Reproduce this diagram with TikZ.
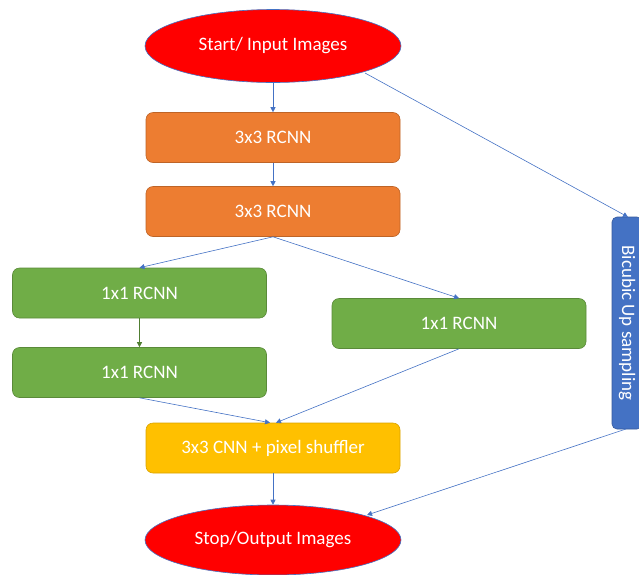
\documentclass[tikz,border=0pt]{standalone}
\usepackage{fontspec}
\setmainfont{Carlito}
\usetikzlibrary{shapes.geometric,arrows.meta}
\definecolor{cred}{HTML}{FF0000}
\definecolor{corange}{HTML}{ED7D31}
\definecolor{cgreen}{HTML}{70AD47}
\definecolor{cyellow}{HTML}{FFC000}
\definecolor{cblue}{HTML}{4472C4}
\definecolor{cdgreen}{HTML}{507E32}
\tikzset{
  lbl/.style={text=white, font=\fontsize{19}{22}\selectfont, inner sep=0pt},
  oval/.style={ellipse, lbl, fill=cred, draw=cblue, line width=0.6pt, minimum width=256pt, minimum height=73pt},
  rbox/.style={rectangle, rounded corners=7pt, lbl, line width=0.6pt, minimum width=254pt, minimum height=50pt},
  obox/.style={rbox, fill=corange, draw=corange!80!black},
  gbox/.style={rbox, fill=cgreen, draw=cgreen!80!black},
  ybox/.style={rbox, fill=cyellow, draw=cyellow!85!black},
  conn/.style={draw=cblue, line width=0.6pt, -{Triangle[length=5pt,width=5pt]}},
}
\begin{document}
\begin{tikzpicture}[x=1pt,y=-1pt]
\useasboundingbox (0,0) rectangle (639,574);
\node[oval] (start) at (273,46) {Start/ Input Images};
\node[obox] (r1) at (273,137.5) {3x3 RCNN};
\node[obox] (r2) at (273,211.5) {3x3 RCNN};
\node[gbox] (g1) at (139.5,293) {1x1 RCNN};
\node[gbox] (g2) at (139.5,372.5) {1x1 RCNN};
\node[gbox] (g3) at (459,323.5) {1x1 RCNN};
\node[ybox] (y) at (273,448) {3x3 CNN + pixel shuffler};
\node[oval, minimum height=70pt] (stop) at (273,540) {Stop/Output Images};
\node[rectangle, rounded corners=5pt, fill=cblue, draw=cblue!80!black, line width=0.6pt,
      minimum width=212pt, minimum height=30pt, lbl, rotate=-90] (bic) at (627,323) {Bicubic Up sampling};
\coordinate (s1) at (365,73);
\coordinate (bt) at (628,217);
\coordinate (bb) at (626,429);
\coordinate (se) at (367,515);
\draw[conn] (start.south) -- (r1.north);
\draw[conn] (s1) -- (bt);
\draw[conn] (r1.south) -- (r2.north);
\draw[conn] (r2.south) -- (g1.north);
\draw[conn] (r2.south) -- (g3.north);
\draw[conn, draw=cdgreen] (g1.south) -- (g2.north);
\draw[conn] (g2.south) -- ([xshift=-3pt]y.north);
\draw[conn] (g3.south) -- ([xshift=3pt]y.north);
\draw[conn] (y.south) -- (stop.north);
\draw[conn] (bb) -- (se);
\end{tikzpicture}
\end{document}
